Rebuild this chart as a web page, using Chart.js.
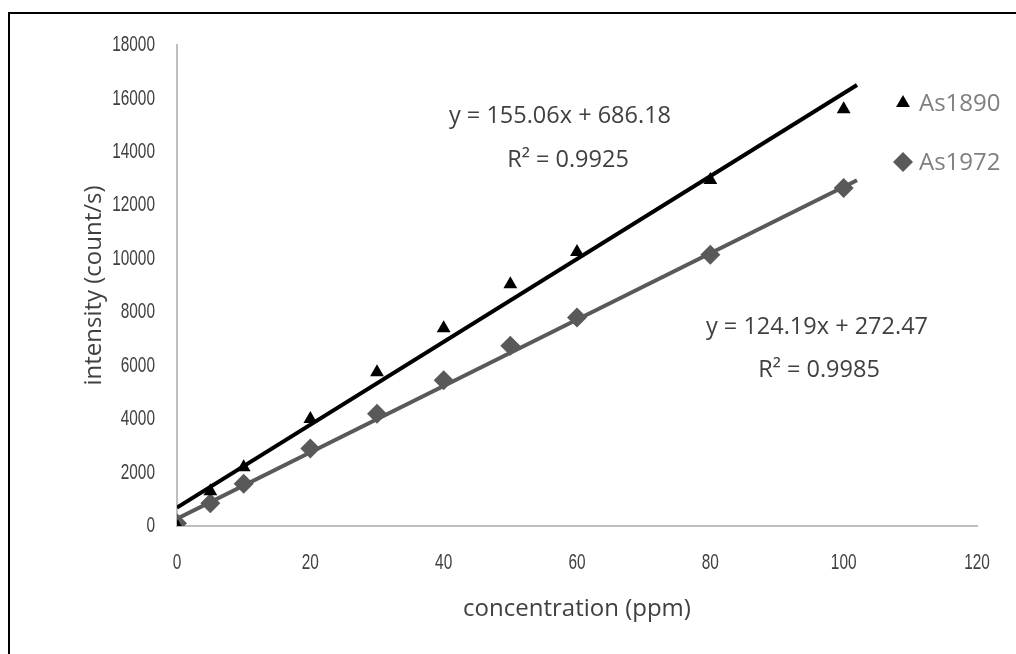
<!DOCTYPE html>
<html><head><meta charset="utf-8">
<script src="https://cdn.jsdelivr.net/npm/chart.js@4.4.0/dist/chart.umd.min.js"></script>
<style>html,body{margin:0;padding:0;background:#fff;} #wrap{width:1016px;height:654px;position:relative;}</style>
</head><body><div id="wrap"><canvas id="c" width="1016" height="654"></canvas></div>
<script>
// ---- data ----
const concentration = [0, 5, 10, 20, 30, 40, 50, 60, 80, 100];
const as1890 = [0, 1300, 2200, 4000, 5750, 7400, 9050, 10250, 12950, 15600];
const as1972 = [100, 850, 1580, 2900, 4200, 5450, 6750, 7800, 10150, 12650];
const trendX = [0, 102];
const trend1890 = [686, 16502];
const trend1972 = [272, 12939];
const xTicks = [0, 20, 40, 60, 80, 100, 120];
const yTicks = [0, 2000, 4000, 6000, 8000, 10000, 12000, 14000, 16000, 18000];
const seriesNames = ['As1890', 'As1972'];
const eq1890 = ['y = 155.06x + 686.18', 'R² = 0.9925'];
const eq1972 = ['y = 124.19x + 272.47', 'R² = 0.9985'];
const xTitle = 'concentration (ppm)';
const yTitle = 'intensity (count/s)';

const pts = (xs, ys) => xs.map((x, i) => ({x: x, y: ys[i]}));
const TEXT = '#404040';
const GRAY = '#595959';
const titleFont = {family: '"Open Sans", "Noto Sans", sans-serif', size: 24};

function condensedText(ctx, text, x, y, align) {
  ctx.save();
  ctx.translate(x, y);
  ctx.scale(0.7, 1);
  ctx.textAlign = align;
  ctx.textBaseline = 'middle';
  ctx.fillText(text, 0, 0);
  ctx.restore();
}

const overlay = {
  id: 'overlay',
  afterDraw(chart) {
    const ctx = chart.ctx;
    const xs = chart.scales.x, ys = chart.scales.y;
    ctx.save();
    // page frame
    ctx.fillStyle = '#000';
    ctx.fillRect(8, 12, 2, 654);
    ctx.fillRect(8, 12, 1016, 2);
    // tick labels (condensed), placed through the scales
    ctx.fillStyle = TEXT;
    ctx.font = '22px "Liberation Sans", "DejaVu Sans", sans-serif';
    yTicks.forEach(v => condensedText(ctx, String(v), ys.right - 22, ys.getPixelForValue(v), 'right'));
    xTicks.forEach(v => condensedText(ctx, String(v), xs.getPixelForValue(v), xs.top + 37, 'center'));
    // equations
    ctx.fillStyle = TEXT;
    ctx.font = '23.5px "Open Sans", "Noto Sans", sans-serif';
    ctx.textAlign = 'center';
    ctx.textBaseline = 'middle';
    ctx.fillText(eq1890[0], 560, 116);
    ctx.fillText(eq1890[1], 568, 160);
    ctx.fillText(eq1972[0], 817, 327);
    ctx.fillText(eq1972[1], 819, 370);
    // legend
    const items = chart.data.datasets.filter(d => d.legend);
    items.forEach((d, i) => {
      const y = 103 + i * 59;
      const r = d.legendRadius;
      ctx.fillStyle = d.backgroundColor;
      ctx.beginPath();
      if (d.pointStyle === 'triangle') {
        ctx.moveTo(903, y - r); ctx.lineTo(903 + r * 0.866, y + r * 0.5); ctx.lineTo(903 - r * 0.866, y + r * 0.5);
      } else {
        ctx.moveTo(903, y - r); ctx.lineTo(903 + r, y); ctx.lineTo(903, y + r); ctx.lineTo(903 - r, y);
      }
      ctx.closePath(); ctx.fill();
      ctx.fillStyle = '#7f7f7f';
      ctx.font = '24px "Open Sans", "Noto Sans", sans-serif';
      ctx.textAlign = 'left';
      ctx.fillText(d.label, 919, y + 1);
    });
    ctx.restore();
  }
};

new Chart(document.getElementById('c'), {
  type: 'scatter',
  data: {
    datasets: [
      {label: 'trend1890', data: pts(trendX, trend1890), showLine: true, borderColor: '#000', borderWidth: 4, pointRadius: 0, order: 0},
      {label: 'trend1972', data: pts(trendX, trend1972), showLine: true, borderColor: GRAY, borderWidth: 4, pointRadius: 0, order: 0},
      {label: seriesNames[0], legend: true, data: pts(concentration, as1890), pointStyle: 'triangle', pointRadius: 8, legendRadius: 8,
       backgroundColor: '#000', borderColor: '#000', borderWidth: 0, order: 1},
      {label: seriesNames[1], legend: true, data: pts(concentration, as1972), pointStyle: 'rectRot', pointRadius: 10, legendRadius: 10,
       backgroundColor: GRAY, borderColor: GRAY, borderWidth: 0, order: 1}
    ]
  },
  options: {
    responsive: false,
    animation: false,
    layout: {padding: {left: 80, top: 45, right: 39, bottom: 30}},
    plugins: {legend: {display: false}, tooltip: {enabled: false}},
    scales: {
      x: {
        type: 'linear', min: 0, max: 120,
        afterBuildTicks: s => { s.ticks = xTicks.map(v => ({value: v})); },
        afterFit: s => { s.height = 98; },
        grid: {display: false, drawTicks: false},
        border: {display: true, color: '#bfbfbf', width: 2},
        ticks: {display: false},
        title: {display: true, text: xTitle, font: titleFont, color: TEXT, padding: {top: 0, bottom: 0}}
      },
      y: {
        type: 'linear', min: 0, max: 18000,
        afterBuildTicks: s => { s.ticks = yTicks.map(v => ({value: v})); },
        afterFit: s => { s.width = 97; },
        grid: {display: false, drawTicks: false},
        border: {display: true, color: '#bfbfbf', width: 2},
        ticks: {display: false},
        title: {display: true, text: yTitle, font: titleFont, color: TEXT, padding: {top: 0, bottom: 0}}
      }
    }
  },
  plugins: [overlay]
});
</script></body></html>
